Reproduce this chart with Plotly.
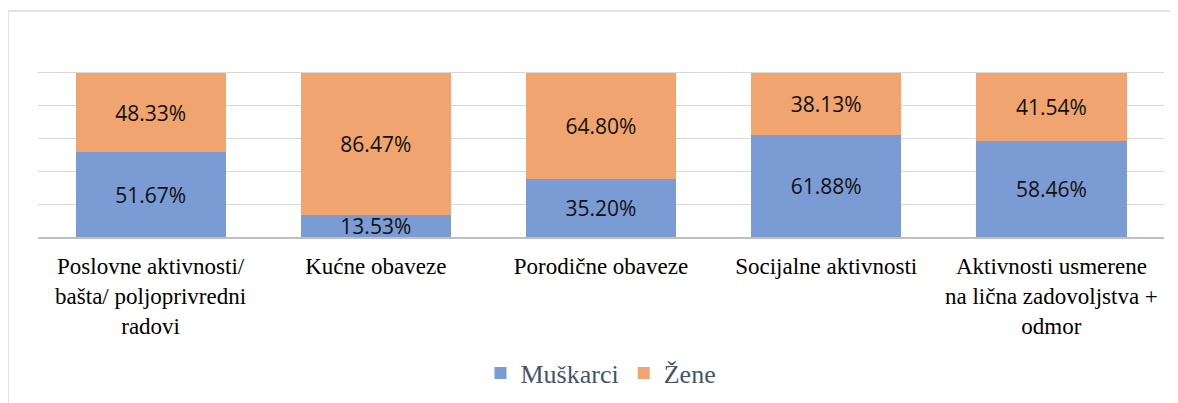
import plotly.graph_objects as go

categories = [
    "Poslovne aktivnosti/<br>bašta/ poljoprivredni<br>radovi",
    "Kućne obaveze",
    "Porodične obaveze",
    "Socijalne aktivnosti",
    "Aktivnosti usmerene<br>na lična zadovoljstva +<br>odmor",
]
muskarci = [51.67, 13.53, 35.20, 61.88, 58.46]
zene = [48.33, 86.47, 64.80, 38.13, 41.54]

# page body has an 8px offset; compensate
OFF = 8
W, H = 1178 - OFF, 403 - OFF
L, R, T, B = 38 - OFF, 14, 40 - OFF, 166
pw = W - L - R
ph = H - T - B
SERIF = "Liberation Serif"

fig = go.Figure()
for name, vals, color in [("Muškarci", muskarci, "#7b9bd4"), ("Žene", zene, "#f0a46f")]:
    fig.add_trace(go.Bar(
        x=categories, y=vals, name=name,
        marker=dict(color=color, line=dict(width=0)),
        text=[f"{v:.2f}%" for v in vals],
        textposition="inside", insidetextanchor="middle",
        constraintext="none",
        textfont=dict(family="Open Sans", size=21, color="#111111"),
        hoverinfo="skip",
    ))

fig.update_layout(
    width=W, height=H,
    margin=dict(l=L, r=R, t=T, b=B, autoexpand=False),
    barmode="stack", bargap=0.333,
    plot_bgcolor="white", paper_bgcolor="white",
    showlegend=True,
    legend=dict(orientation="h", x=0.5, xanchor="center",
                y=(237 - 373) / ph, yanchor="middle",
                font=dict(family=SERIF, size=26, color="#44546a"),
                traceorder="normal"),
    xaxis=dict(showline=True, linecolor="#bfbfbf", linewidth=1.5,
               tickfont=dict(family=SERIF, size=23, color="#000000"),
               ticks="", ticklabelstandoff=8, automargin=False, fixedrange=True),
    yaxis=dict(range=[0, 120], dtick=20, showgrid=True, gridcolor="#d9d9d9", gridwidth=1,
               showticklabels=False, zeroline=False, fixedrange=True, automargin=False),
    shapes=[dict(type="rect", xref="paper", yref="paper", layer="below",
                 x0=(0 - L) / pw, x1=(W + 5 - L) / pw,
                 y0=-(H + 5 - (T + ph)) / ph, y1=(T + ph - 3) / ph,
                 line=dict(color="#d9d9d9", width=1.5), fillcolor="rgba(0,0,0,0)")],
)

fig.write_html("out.html")
